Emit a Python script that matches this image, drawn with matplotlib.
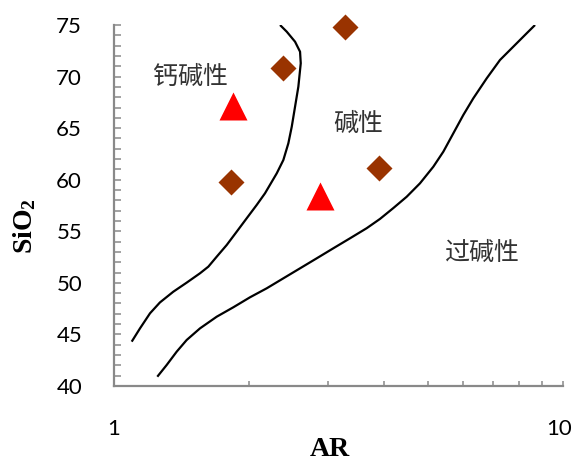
import matplotlib
matplotlib.use('Agg')
import matplotlib.pyplot as plt
import matplotlib.ticker as ticker
import matplotlib.transforms as mtransforms
import numpy as np

# boundary curves (AR, SiO2)
calc_alk_ar = [1.0950, 1.1427, 1.2029, 1.2655, 1.3553, 1.4516, 1.5545, 1.6222,
               1.6936, 1.7824, 1.8761, 1.9748, 2.0786, 2.1690, 2.3040, 2.3833,
               2.4452, 2.4882, 2.5307, 2.5739, 2.6057, 2.5964, 2.5307, 2.4252,
               2.3433]
calc_alk_si = [44.30, 45.59, 47.05, 48.10, 49.14, 50.02, 50.93, 51.57,
               52.54, 53.67, 54.96, 56.26, 57.55, 58.68, 60.62, 61.91,
               63.53, 65.14, 67.08, 69.02, 71.29, 72.41, 73.38, 74.35,
               75.00]
per_alk_ar = [1.2486, 1.3103, 1.3792, 1.4516, 1.5545, 1.6936, 1.8437, 2.0085,
              2.1880, 2.3833, 2.5964, 2.8283, 3.0789, 3.3547, 3.6544, 3.9124,
              4.1886, 4.4863, 4.8025, 5.1428, 5.4139, 5.6986, 5.9985, 6.3127,
              6.7622, 7.2394, 7.7509, 8.3023, 8.6637]
per_alk_si = [40.90, 42.04, 43.33, 44.46, 45.59, 46.72, 47.63, 48.60,
              49.47, 50.44, 51.41, 52.38, 53.35, 54.32, 55.30, 56.20,
              57.25, 58.35, 59.65, 61.26, 62.72, 64.50, 66.28, 67.89,
              69.83, 71.61, 72.90, 74.20, 75.00]

# samples
dia_ar = [1.82, 2.38, 3.27, 3.89]
dia_si = [59.8, 70.8, 74.8, 61.1]
tri_ar = [1.84, 2.88]
tri_si = [67.1, 58.4]

# region labels
region_names = ['钙碱性', '碱性', '过碱性']
region_ar = [1.48, 3.50, 6.57]
region_si = [70.0, 65.4, 52.9]

plt.rcParams['mathtext.fontset'] = 'custom'
plt.rcParams['mathtext.rm'] = 'Liberation Serif:bold'
plt.rcParams['mathtext.bf'] = 'Liberation Serif:bold'

fig = plt.figure(figsize=(5.74, 4.62), dpi=100)
ax = fig.add_axes([114/574, 1-386/462, 449/574, 361/462])

ax.plot(calc_alk_ar, calc_alk_si, color='black', lw=1.6,
        solid_joinstyle='round', solid_capstyle='butt')
ax.plot(per_alk_ar, per_alk_si, color='black', lw=1.6,
        solid_joinstyle='round', solid_capstyle='butt')
ax.plot(dia_ar, dia_si, linestyle='none', marker='D', ms=13.5,
        color='#993300', mec='none', clip_on=False, zorder=3)
ax.plot(tri_ar, tri_si, linestyle='none', marker='^', ms=19.5,
        color='#ff0000', mec='none', clip_on=False, zorder=3)

for name, xa, ya in zip(region_names, region_ar, region_si):
    ax.text(xa, ya, name, fontsize=18, family=['Noto Sans CJK SC', 'DejaVu Sans'],
            color='#333333', ha='center', va='center')

ax.set_xscale('log')
ax.set_xlim(1, 10)
ax.set_ylim(40, 75)
ax.xaxis.set_major_locator(ticker.FixedLocator([1, 10]))
ax.xaxis.set_major_formatter(ticker.FixedFormatter(['1', '10']))
ax.xaxis.set_minor_locator(ticker.LogLocator(base=10, subs=np.arange(2, 10)))
ax.xaxis.set_minor_formatter(ticker.NullFormatter())
ax.yaxis.set_major_locator(ticker.MultipleLocator(5))
ax.yaxis.set_minor_locator(ticker.MultipleLocator(1))

for s in ['top', 'right']:
    ax.spines[s].set_visible(False)
for s in ['left', 'bottom']:
    ax.spines[s].set_color('#898989')
    ax.spines[s].set_linewidth(1.6)

ax.tick_params(which='both', direction='in', color='#898989', width=1.1)
ax.tick_params(axis='y', which='both', length=5, pad=23)
ax.tick_params(axis='x', which='both', length=3.5, pad=24)
for lab in ax.get_xticklabels() + ax.get_yticklabels():
    lab.set_family('Lato')
    lab.set_fontsize(16)

# keep the "10" label inside the picture
shift = mtransforms.ScaledTranslation(-4/100, 0, fig.dpi_scale_trans)
last = ax.get_xticklabels()[-1]
last.set_transform(last.get_transform() + shift)

ax.set_xlabel('AR', family='Liberation Serif', fontweight='bold', fontsize=20)
ax.xaxis.set_label_coords(0.481, -0.142)
ax.set_ylabel(r'$\mathbf{SiO_2}$', fontsize=20)
ax.yaxis.set_label_coords(-0.17, 0.443)

fig.savefig('out.png', dpi=100)
